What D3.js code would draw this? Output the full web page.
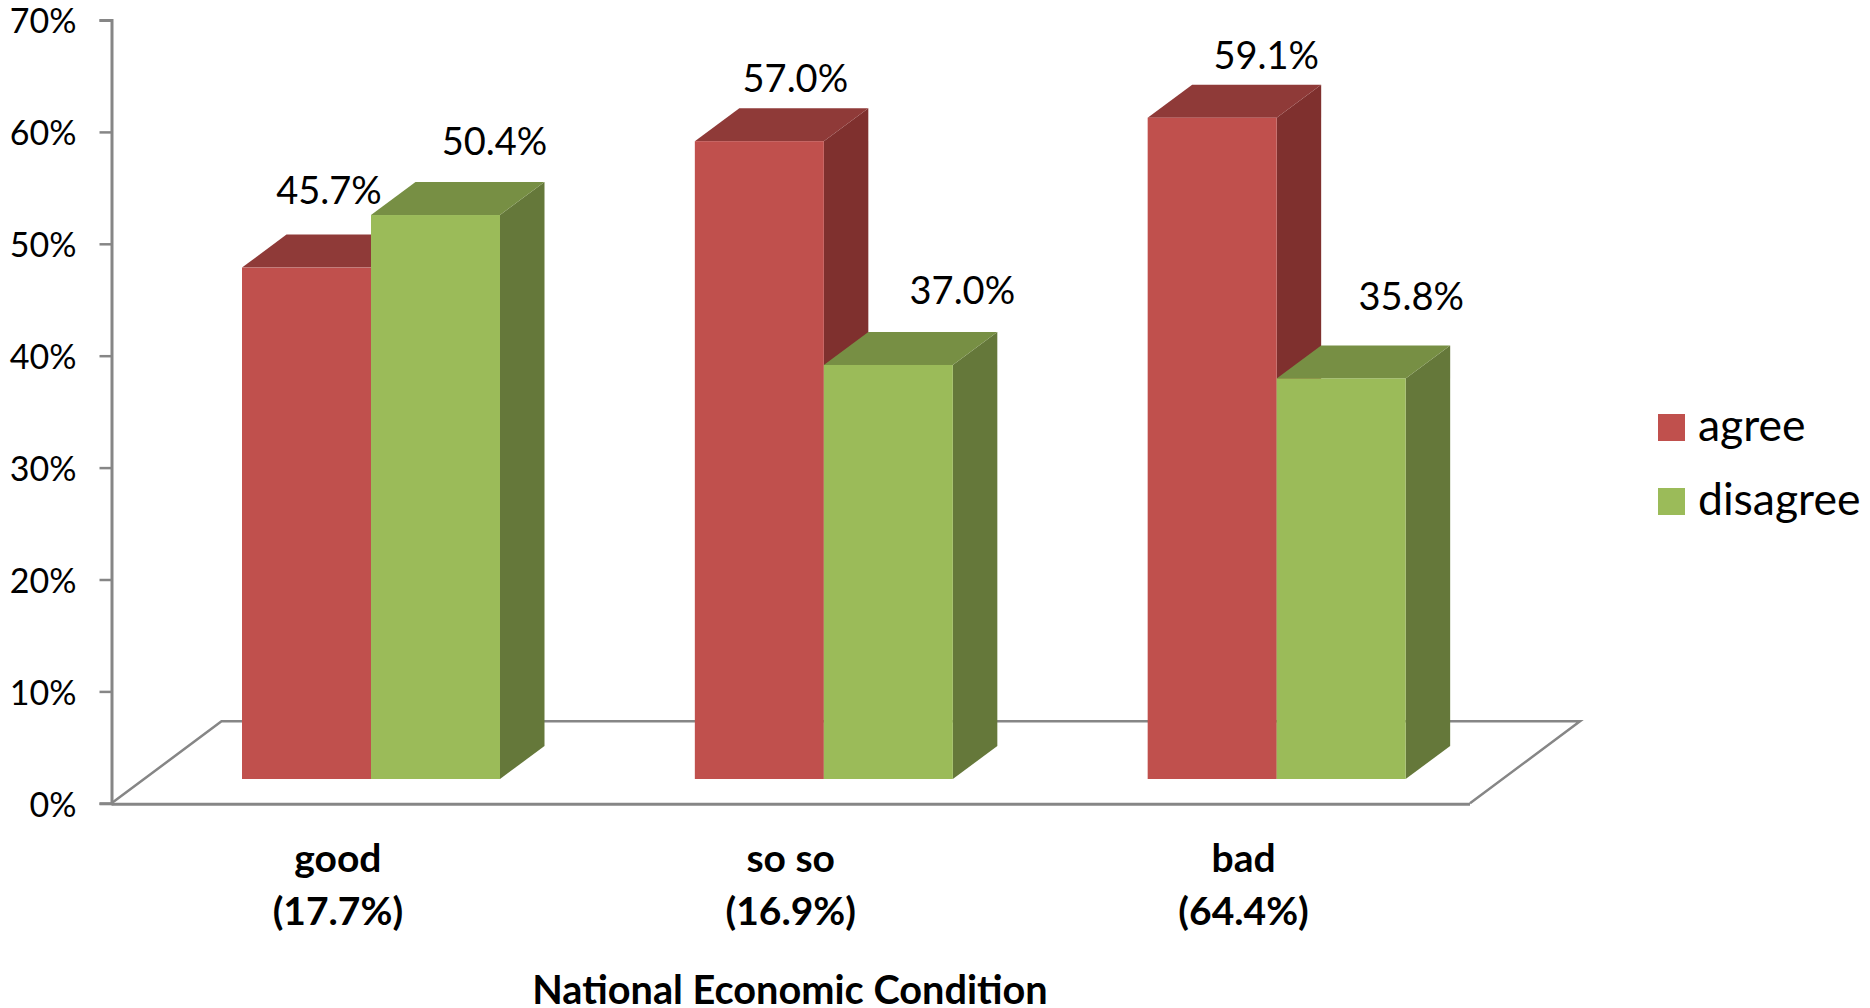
<!DOCTYPE html>
<html><head><meta charset="utf-8">
<script src="https://cdn.jsdelivr.net/npm/d3@7/dist/d3.min.js"></script>
<style>html,body{margin:0;padding:0;background:#fff;overflow:hidden}svg{display:block}text{font-family:Lato,"Open Sans",sans-serif;fill:#000}</style>
</head><body><svg id="c" width="1870" height="1008"></svg>
<script>
// ---- data ----
const categories = ["good", "so so", "bad"];
const categoryShares = ["(17.7%)", "(16.9%)", "(64.4%)"];
const seriesNames = ["agree", "disagree"];
const agree = [45.7, 57.0, 59.1];
const disagree = [50.4, 37.0, 35.8];
const yTicks = [0, 10, 20, 30, 40, 50, 60, 70];
const axisTitle = "National Economic Condition";

// ---- layout and style ----
const W = 1870, H = 1008;
const colors = {
  agree: {front: "#C0504D", top: "#8F3A38", side: "#7F302E"},
  disagree: {front: "#9BBB59", top: "#778F44", side: "#65783A"}
};
const axisColor = "#868686";
const plot = {left: 111.5, right: 1470, top: 20, bottom: 803.3};
const floorDepth = {dx: 110, dy: 82};
const barLift = 24.3, barInset = 130.5, groupWidth = 258;
const depth = {dx: 44.5, dy: 33};
// hand-placed data label offsets from the top-centre of each bar's front face
const labelNudge = {
  agree: [[22.5, -64], [36, -49], [54, -49]],
  disagree: [[59, -60], [74, -61], [70, -68]]
};

const svg = d3.select("#c");
const y = d3.scaleLinear().domain([0, 70]).range([plot.bottom, plot.top]);
const x0 = d3.scaleBand().domain(categories).range([plot.left, plot.right]);
const x1 = d3.scaleBand().domain(seriesNames).range([0, groupWidth]);
const values = {agree, disagree};

// floor
const pathOf = d3.line();
svg.append("path")
  .attr("d", pathOf([
    [plot.left, plot.bottom],
    [plot.left + floorDepth.dx, plot.bottom - floorDepth.dy],
    [plot.right + floorDepth.dx, plot.bottom - floorDepth.dy],
    [plot.right, plot.bottom]
  ]))
  .attr("fill", "none").attr("stroke", axisColor).attr("stroke-width", 2.5);

// axes
const yAxis = d3.axisLeft(y).tickValues(yTicks).tickFormat(d => d + "%").tickSize(12).tickPadding(23);
const gy = svg.append("g").attr("transform", `translate(${plot.left},0)`).call(yAxis);
gy.selectAll("path,line").attr("stroke", axisColor).attr("stroke-width", 2.5);
gy.selectAll("text").attr("font-size", 34).attr("font-family", "Lato").attr("fill", "#000").attr("dy", "0.38em");
gy.select(".domain").attr("stroke-width", 3);

svg.append("line")
  .attr("x1", plot.left).attr("x2", plot.right)
  .attr("y1", plot.bottom + 1).attr("y2", plot.bottom + 1)
  .attr("stroke", axisColor).attr("stroke-width", 3);

// bars
categories.forEach((c, i) => {
  const g = svg.append("g");
  seriesNames.forEach(s => {
    const v = values[s][i];
    const xl = x0(c) + barInset + x1(s), xr = xl + x1.bandwidth();
    const yt = y(v) - barLift, yb = y(0) - barLift;
    const col = colors[s];
    g.append("path").attr("fill", col.side).attr("d", pathOf([
      [xr, yt], [xr + depth.dx, yt - depth.dy], [xr + depth.dx, yb - depth.dy], [xr, yb]
    ]) + "Z");
    g.append("path").attr("fill", col.top).attr("d", pathOf([
      [xl, yt], [xl + depth.dx, yt - depth.dy], [xr + depth.dx, yt - depth.dy], [xr, yt]
    ]) + "Z");
    g.append("rect").attr("x", xl).attr("y", yt).attr("width", x1.bandwidth()).attr("height", yb - yt).attr("fill", col.front);
  });
});

// data labels (on top of every bar)
seriesNames.forEach(s => {
  categories.forEach((c, i) => {
    const v = values[s][i];
    const xc = x0(c) + barInset + x1(s) + x1.bandwidth() / 2;
    svg.append("text")
      .attr("x", xc + labelNudge[s][i][0])
      .attr("y", y(v) - barLift + labelNudge[s][i][1])
      .attr("text-anchor", "middle").attr("font-size", 38)
      .text(v.toFixed(1) + "%");
  });
});

// category labels
categories.forEach((c, i) => {
  const xc = x0(c) + x0.bandwidth() / 2;
  svg.append("text").attr("x", xc).attr("y", 872).attr("text-anchor", "middle")
    .attr("font-size", 39).attr("font-weight", 700).text(c);
  svg.append("text").attr("x", xc).attr("y", 924.5).attr("text-anchor", "middle")
    .attr("font-size", 39).attr("font-weight", 700).text(categoryShares[i]);
});

// axis title
svg.append("text").attr("x", 790).attr("y", 1004).attr("text-anchor", "middle")
  .attr("font-size", 39.7).attr("font-weight", 700).text(axisTitle);

// legend
seriesNames.forEach((s, i) => {
  const ly = 414 + i * 74;
  svg.append("rect").attr("x", 1658).attr("y", ly).attr("width", 27).attr("height", 27).attr("fill", colors[s].front);
  svg.append("text").attr("x", 1698).attr("y", ly + 27).attr("font-size", 44.5).text(s);
});
</script></body></html>
